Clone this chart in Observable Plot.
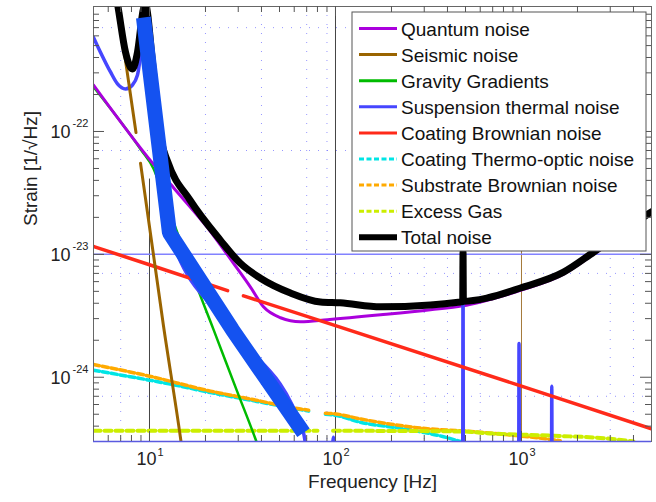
<!DOCTYPE html>
<html>
<head>
<meta charset="utf-8">
<script src="https://cdn.jsdelivr.net/npm/d3@7"></script>
<script src="https://cdn.jsdelivr.net/npm/@observablehq/plot@0.6"></script>
<style>
  html, body { margin: 0; padding: 0; background: #fff; }
  #chart svg { display: block; }
</style>
</head>
<body>
<div id="chart"></div>
<script>
// ---------- data ----------
// Quantum noise
const qnF = [5, 10.5, 13.5, 20.5, 28.3, 34.9, 41, 50.6, 64.8, 90.6, 175, 324, 482, 603, 988, 1683, 2438, 4820, 5000];
const qnS = [2.39e-22, 5.42e-23, 3.47e-23, 1.65e-23, 8.46e-24, 5.42e-24, 3.74e-24, 3.05e-24, 2.83e-24, 2.94e-24, 3.22e-24, 3.54e-24, 3.81e-24, 4.1e-24, 5.1e-24, 6.9e-24, 1.0e-23, 2.08e-23, 2.16e-23];
// Seismic noise
const seisF = [6.6, 7.52, 8.46, 8.7, 8.95, 11.9, 14.7, 15.4];
const seisS = [1.3e-21, 3.34e-22, 9.8e-23, NaN, 5.52e-23, 2.6e-24, 3.16e-25, 1.9e-25];
// Gravity gradients
const gravF = [5, 9, 10.5, 12, 13.8, 17.2, 22.1, 29.7, 37.1, 40];
const gravS = [2.31e-22, 7.1e-23, 5.0e-23, 2.9e-23, 1.65e-23, 6.52e-24, 2.44e-24, 7.57e-25, 3.16e-25, 2.3e-25];
// Suspension thermal noise (with violin modes)
const suspF = [5, 5.45, 6.17, 6.73, 7.43, 8.1, 8.62, 9.28, 10.64, 12.8, 27.9, 67.3, 72, 95, 97.5, 100, 483, 485, 487, 966, 970, 974, 1450, 1455, 1460, 5000];
const suspS = [5.83e-22, 4.42e-22, 3.05e-22, 2.44e-22, 2.22e-22, 2.39e-22, 2.88e-22, 5.32e-22, 1.75e-22, 1.5e-23, 2.44e-24, 3.53e-25, 2e-25, 2e-25, 3.25e-25, 2e-25, 2e-25, 1.05e-23, 2e-25, 2e-25, 1.88e-24, 2e-25, 2e-25, 8.46e-25, 2e-25, 2e-25];
// Highlighted (thick) suspension trace
const thickF = [9.28, 12.8, 27.9, 67.3];
const thickS = [8.46e-22, 1.5e-23, 2.44e-24, 3.53e-25];
// Coating Brownian noise
const cbF = [5, 10, 26.3, 29, 32, 100, 1000, 5000];
const cbS = [1.16e-23, 8.23e-24, 5.07e-24, NaN, 4.6e-24, 2.63e-24, 8.46e-25, 3.81e-25];
// Coating thermo-optic noise
const ctoF = [5, 10, 13, 21.3, 34.9, 64.8, 71.7, 80, 88.3, 100, 136, 232, 381, 470];
const ctoS = [1.14e-24, 9.46e-25, 8.78e-25, 7.5e-25, 6.5e-25, 5.45e-25, 5.3e-25, NaN, 5.0e-25, 4.9e-25, 4.3e-25, 3.81e-25, 3.28e-25, 3.0e-25];
// Substrate Brownian noise
const sbF = [5, 10, 21.3, 34.9, 64.8, 71.7, 80, 88.3, 100, 136, 313, 470, 1077, 1615];
const sbS = [1.27e-24, 1.02e-24, 7.71e-25, 6.65e-25, 5.52e-25, 5.4e-25, NaN, 5.1e-25, 5.03e-25, 4.58e-25, 3.81e-25, 3.67e-25, 3.28e-25, 3.05e-25];
// Excess gas
const gasF = [5, 80, 88, 97, 470, 700, 1500, 3000, 4000];
const gasS = [3.67e-25, 3.67e-25, NaN, 3.67e-25, 3.62e-25, 3.48e-25, 3.34e-25, 3.16e-25, 3.0e-25];
// Total noise
const totF = [6.5, 6.81, 7.43, 8.1, 8.62, 9.28, 9.52, 9.75, 10.25, 10.9, 11.6, 12.5, 16.6, 24.1, 30.8, 39.5, 57.3, 83.1, 106, 175, 324, 470, 483, 485, 487, 656, 988, 1683, 2438, 4820, 5000];
const totS = [1.5e-21, 9.8e-22, 4.42e-22, 3.22e-22, 4.42e-22, 1.0e-21, 1.1e-21, 9.3e-22, 4.42e-22, 1.75e-22, 8.3e-23, 5.73e-23, 2.73e-23, 1.30e-23, 8.46e-24, 6.4e-24, 4.85e-24, 4.1e-24, 4.03e-24, 3.74e-24, 3.88e-24, 4.1e-24, 4.12e-24, 1.04e-23, 4.15e-24, 4.42e-24, 5.32e-24, 7.16e-24, 1.04e-23, 2.14e-23, 2.22e-23];

// legend labels
const legendNames = ["Quantum noise", "Seismic noise", "Gravity Gradients", "Suspension thermal noise", "Coating Brownian noise", "Coating Thermo-optic noise", "Substrate Brownian noise", "Excess Gas", "Total noise"];

// ticks and tick labels
const xMajor = [10, 100, 1000];
const xExp = ["1", "2", "3"];
const xMinor = [6, 7, 8, 9, 20, 30, 40, 50, 60, 70, 80, 90, 200, 300, 400, 500, 600, 700, 800, 900, 2000, 3000, 4000];
const yMajor = [1e-24, 1e-23, 1e-22];
const yExp = ["-24", "-23", "-22"];
const yMinor = [4e-25, 5e-25, 6e-25, 7e-25, 8e-25, 9e-25, 2e-24, 3e-24, 4e-24, 5e-24, 6e-24, 7e-24, 8e-24, 9e-24, 2e-23, 3e-23, 4e-23, 5e-23, 6e-23, 7e-23, 8e-23, 9e-23, 2e-22, 3e-22, 4e-22, 5e-22, 6e-22, 7e-22, 8e-22, 9e-22];
const xDotted = [7, 20, 40, 70, 90, 200, 300, 400, 600, 3000, 4000];
const yDotted = [7e-25, 7e-24, 7e-23, 7e-22];

// ---------- styles ----------
const series = [
  {name: legendNames[5], f: ctoF, s: ctoS, color: "#00e5e5", w: 3.5, dash: "6,3"},
  {name: legendNames[6], f: sbF, s: sbS, color: "#ffaa00", w: 3.5, dash: "6,3"},
  {name: legendNames[7], f: gasF, s: gasS, color: "#ccee00", w: 4, dash: "7,4"},
  {name: legendNames[2], f: gravF, s: gravS, color: "#00bb00", w: 2.5},
  {name: legendNames[0], f: qnF, s: qnS, color: "#aa00dd", w: 3},
  {name: legendNames[3], f: suspF, s: suspS, color: "#4646ff", w: 3.5},
  {name: legendNames[4], f: cbF, s: cbS, color: "#ff2a1a", w: 3.5},
  {name: legendNames[1], f: seisF, s: seisS, color: "#9a6400", w: 3},
  {name: legendNames[8], f: totF, s: totS, color: "#000000", w: 7}
];
const legendStyle = {
  "Quantum noise": {color: "#aa00dd", w: 3},
  "Seismic noise": {color: "#9a6400", w: 3},
  "Gravity Gradients": {color: "#00bb00", w: 3},
  "Suspension thermal noise": {color: "#4646ff", w: 3},
  "Coating Brownian noise": {color: "#ff2a1a", w: 3},
  "Coating Thermo-optic noise": {color: "#00e5e5", w: 3, dash: "5,2.5"},
  "Substrate Brownian noise": {color: "#ffaa00", w: 3, dash: "5,2.5"},
  "Excess Gas": {color: "#ccee00", w: 3, dash: "5,2.5"},
  "Total noise": {color: "#000000", w: 6}
};

const rows = (f, s) => f.map((d, i) => ({f: d, s: s[i]}));
const yLo = 3e-25, yHi = 1.04e-21;

const marks = [];
// dotted minor grid
marks.push(Plot.ruleX(xDotted, {x: d => d, stroke: "#6b6bff", strokeOpacity: 0.7, strokeDasharray: "1,8"}));
marks.push(Plot.ruleY(yDotted, {y: d => d, stroke: "#6b6bff", strokeOpacity: 0.7, strokeDasharray: "1,8"}));
// major grid
marks.push(Plot.ruleX([xMajor[0]], {x: d => d, y1: yLo, y2: 4.1e-23, stroke: "#444"}));
marks.push(Plot.ruleX([xMajor[1]], {x: d => d, stroke: "#444"}));
marks.push(Plot.ruleX([xMajor[2]], {x: d => d, stroke: "#a47a3a"}));
marks.push(Plot.ruleY([yMajor[1]], {y: d => d, stroke: "#8282ff", strokeWidth: 1.5}));
// curves
for (const sr of series) {
  marks.push(Plot.line(rows(sr.f, sr.s), {
    x: "f", y: "s", stroke: sr.color, strokeWidth: sr.w, curve: "monotone-x",
    strokeDasharray: sr.dash, clip: true, strokeLinejoin: "round"
  }));
}
marks.push(Plot.line(rows(thickF, thickS), {x: "f", y: "s", stroke: "#1452f0", strokeWidth: 15, strokeLinecap: "butt", strokeLinejoin: "miter", clip: true}));
// frame & axis lines
marks.push(Plot.frame({stroke: "#666"}));
marks.push(Plot.ruleY([yLo], {y: d => d, stroke: "#5a5ae0", strokeWidth: 1.5}));
// ticks (inward)
const tc = "#555";
marks.push(Plot.ruleX(xMinor, {x: d => d, insetTop: 429, stroke: tc}));
marks.push(Plot.ruleX(xMajor, {x: d => d, insetTop: 425, stroke: tc}));
marks.push(Plot.ruleX(xMinor, {x: d => d, insetBottom: 429, stroke: tc}));
marks.push(Plot.ruleX(xMajor, {x: d => d, insetBottom: 425, stroke: tc}));
marks.push(Plot.ruleY(yMinor, {y: d => d, insetRight: 552, stroke: tc}));
marks.push(Plot.ruleY(yMajor, {y: d => d, insetRight: 547, stroke: tc}));
marks.push(Plot.ruleY(yMinor, {y: d => d, insetLeft: 552, stroke: tc}));
marks.push(Plot.ruleY(yMajor, {y: d => d, insetLeft: 547, stroke: tc}));
// tick labels
marks.push(Plot.text(xMajor, {x: d => d, frameAnchor: "bottom", text: () => "10", textAnchor: "end", dx: 7, dy: 23, fontSize: 18, fill: "#222"}));
marks.push(Plot.text(xMajor, {x: d => d, frameAnchor: "bottom", text: xExp, textAnchor: "start", dx: 8, dy: 14, fontSize: 11, fill: "#222"}));
marks.push(Plot.text(yMajor, {y: d => d, frameAnchor: "left", text: () => "10", textAnchor: "end", dx: -23, dy: 1, fontSize: 18, fill: "#222"}));
marks.push(Plot.text(yMajor, {y: d => d, frameAnchor: "left", text: yExp, textAnchor: "start", dx: -21, dy: -8, fontSize: 11, fill: "#222"}));
// axis titles
marks.push(Plot.text(["Strain [1/\u221AHz]"], {frameAnchor: "left", text: d => d, rotate: -90, dx: -63, dy: 2, fontSize: 19, fill: "#222"}));
marks.push(Plot.text(["Frequency [Hz]"], {frameAnchor: "bottom", text: d => d, dy: 46, fontSize: 19, fill: "#222"}));

const chart = Plot.plot({
  width: 656, height: 502,
  marginLeft: 93, marginRight: 5, marginTop: 6, marginBottom: 61,
  style: {fontFamily: "'Liberation Sans', Arial, sans-serif", background: "#fff"},
  x: {type: "log", domain: [5, 5000], axis: null},
  y: {type: "log", domain: [yLo, yHi], axis: null},
  marks
});
document.getElementById("chart").appendChild(chart);

// ---------- legend (drawn on top of the plot) ----------
const svgEl = chart.tagName.toLowerCase() === "svg" ? chart : chart.querySelector("svg");
const lg = d3.select(svgEl).append("g")
  .attr("font-family", "'Liberation Sans', Arial, sans-serif")
  .attr("text-anchor", "start");
lg.append("rect")
  .attr("x", 352).attr("y", 12).attr("width", 294).attr("height", 239)
  .style("fill", "#ffffff").style("stroke", "#555555").style("stroke-width", "1px");
legendNames.forEach((name, i) => {
  const st = legendStyle[name];
  const y = 28.5 + i * 26.1;
  lg.append("line").attr("x1", 359).attr("x2", 397).attr("y1", y).attr("y2", y)
    .style("stroke", st.color).style("stroke-width", st.w + "px")
    .style("stroke-dasharray", st.dash || "none");
  lg.append("text").attr("x", 401).attr("y", y + 7)
    .attr("text-anchor", "start")
    .style("font-size", "19px").style("fill", "#111").text(name);
});
</script>
</body>
</html>
